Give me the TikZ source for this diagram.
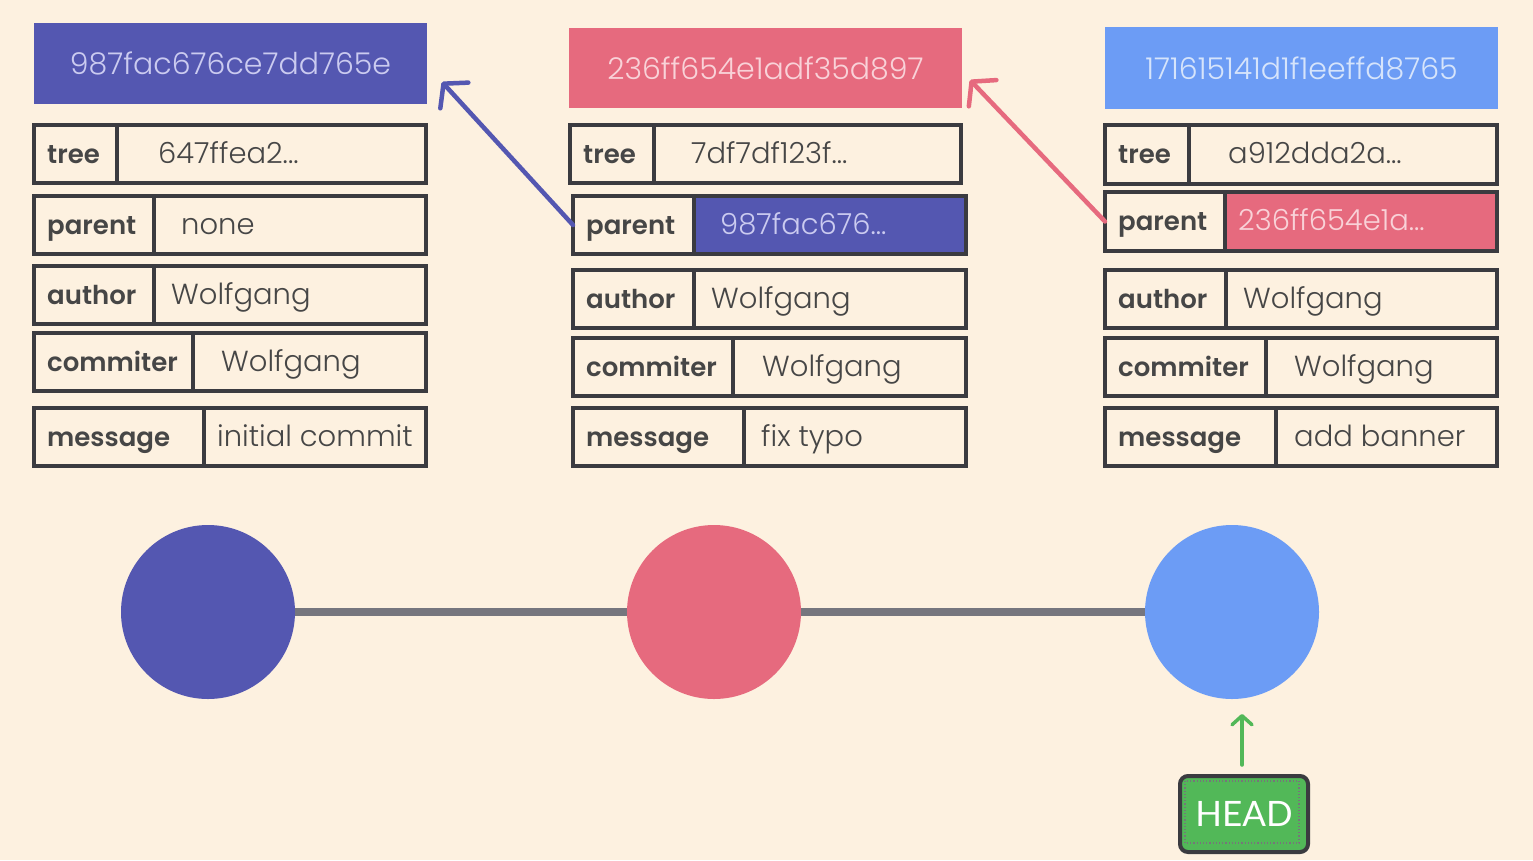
\documentclass[tikz,border=0pt]{standalone}
\usepackage{fontspec}
\setmainfont{Poppins}
\newfontfamily\labfont{Poppins SemiBold}
\newfontfamily\valfont{Poppins Light}
\newfontfamily\headfont{Lato}
\usetikzlibrary{arrows.meta}
\definecolor{bg}{HTML}{FDF1E0}
\definecolor{indig}{HTML}{5457B1}
\definecolor{pinkc}{HTML}{E66A7E}
\definecolor{bluec}{HTML}{6C9CF5}
\definecolor{linegray}{HTML}{76767E}
\definecolor{framec}{HTML}{3B3B40}
\definecolor{textc}{HTML}{464646}
\definecolor{lavtext}{HTML}{CBCBF0}
\definecolor{pinktext}{HTML}{F9D2D8}
\definecolor{bluetext}{HTML}{D6E4FB}
\definecolor{headgreen}{HTML}{52B858}
\tikzset{
  cellbox/.style={draw=framec, line width=4pt, inner sep=0pt, outer sep=0pt},
  frameline/.style={draw=framec, line width=4pt},
  labtext/.style={inner sep=0pt, text=textc, font=\labfont\fontsize{26}{26}\selectfont},
  valtext/.style={inner sep=0pt, text=textc, font=\valfont\fontsize{29}{29}\selectfont},
  hdr/.style={inner sep=0pt, outer sep=0pt, anchor=north west, font=\valfont\fontsize{30}{30}\selectfont},
  commit/.style={circle, minimum size=174pt, inner sep=0pt, outer sep=0pt},
  link/.style={line width=8pt, draw=linegray},
  parentarrow/.style={line width=4.5pt, line cap=round, -{Straight Barb[length=16pt, width=38pt, round]}},
}
\newcommand\kv[9]{%
  \node[cellbox, minimum width={#4-#2}, minimum height={#6-#5}, anchor=north west] (#1) at (#2,#5) {};
  \node[labtext, anchor=base west] (#1-l) at (#2+13,#5+38) {#7};
  \node[valtext, anchor=base west] (#1-v) at (#8,#5+38) {#9};
  \draw[frameline] (#3,#5) -- (#3,#6);
}
\begin{document}
\begin{tikzpicture}[x=1pt,y=-1pt]
\fill[bg] (0,0) rectangle (1533,860);
\useasboundingbox (0,0) rectangle (1533,860);

% headers
\node[hdr, fill=indig, minimum width=393pt, minimum height=81pt, text=lavtext] (h1) at (34,23) {987fac676ce7dd765e};
\node[hdr, fill=pinkc, minimum width=393pt, minimum height=80pt, text=pinktext] (h2) at (569,28) {236ff654e1adf35d897};
\node[hdr, fill=bluec, minimum width=393pt, minimum height=82pt, text=bluetext] (h3) at (1105,27) {171615141d1f1eeffd8765};

% column 1
\kv{a1}{34}{117}{426}{125}{183}{tree}{158}{647ffea2...}
\kv{a2}{34}{154}{426}{196}{254}{parent}{181}{none}
\kv{a3}{34}{154}{426}{266}{324}{author}{171}{Wolfgang}
\kv{a4}{34}{193}{426}{333}{391}{commiter}{221}{Wolfgang}
\kv{a5}{34}{204}{426}{408}{466}{message}{217}{initial commit}

% column 2
\kv{b1}{570}{654}{961}{125}{183}{tree}{691}{7df7df123f...}
\fill[indig] (694,196) rectangle (966,254);
\kv{b2}{573}{694}{966}{196}{254}{parent}{720}{\color{lavtext}987fac676...}
\kv{b3}{573}{694}{966}{270}{328}{author}{711}{Wolfgang}
\kv{b4}{573}{733}{966}{338}{396}{commiter}{762}{Wolfgang}
\kv{b5}{573}{744}{966}{408}{466}{message}{761}{fix typo}

% column 3
\kv{c1}{1105}{1189}{1497}{125}{184}{tree}{1228}{a912dda2a...}
\fill[pinkc] (1225,192) rectangle (1497,251);
\kv{c2}{1105}{1225}{1497}{192}{251}{parent}{1238}{\color{pinktext}236ff654e1a...}
\kv{c3}{1105}{1226}{1497}{270}{328}{author}{1243}{Wolfgang}
\kv{c4}{1105}{1266}{1497}{338}{396}{commiter}{1294}{Wolfgang}
\kv{c5}{1105}{1276}{1497}{408}{466}{message}{1294}{add banner}

% parent arrows
\coordinate (t1) at (442,82);
\coordinate (t2) at (970,80);
\draw[parentarrow, draw=indig] (b2.west) -- (t1);
\draw[parentarrow, draw=pinkc] (c2.west) -- (t2);

% commits
\node[commit, fill=indig] (n1) at (208,612) {};
\node[commit, fill=pinkc] (n2) at (714,612) {};
\node[commit, fill=bluec] (n3) at (1232,612) {};
\draw[link] (n1) -- (n2);
\draw[link] (n2) -- (n3);

% HEAD
\node[draw=framec, line width=4pt, fill=headgreen, rounded corners=8pt,
      minimum width=128pt, minimum height=76pt, inner sep=0pt, anchor=north west] (head) at (1178,774) {};
\draw[framec!70, line width=1.2pt, dotted] (1185,781) rectangle (1299,843);
\node[inner sep=0pt, text=white, font=\headfont\fontsize{35}{35}\selectfont] (headt) at (head.center) {HEAD};
\coordinate (g0) at (1242,765);
\coordinate (g1) at (1242,714);
\draw[draw=headgreen, line width=3.5pt, line cap=round, -{Straight Barb[length=9pt, width=20pt, round]}] (g0) -- (g1);
\end{tikzpicture}
\end{document}
